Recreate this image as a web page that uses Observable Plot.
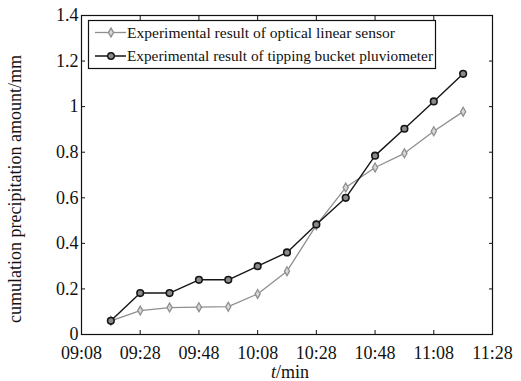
<!DOCTYPE html>
<html><head><meta charset="utf-8">
<script src="https://cdn.jsdelivr.net/npm/d3@7"></script>
<script src="https://cdn.jsdelivr.net/npm/@observablehq/plot@0.6"></script>
<style>
body{margin:0;background:#fff;}
#wrap{position:relative;width:521px;height:381px;font-family:"Liberation Serif","Times New Roman",serif;color:#111;}
#wrap svg{display:block;}
.ovl{position:absolute;white-space:nowrap;line-height:1;}
</style></head><body><div id="wrap"></div>
<script>
// ---- data ----
const times = ["09:18","09:28","09:38","09:48","09:58","10:08","10:18","10:28","10:38","10:48","10:58","11:08","11:18"];
const optical = [0.06,0.105,0.118,0.12,0.122,0.178,0.278,0.48,0.645,0.733,0.795,0.892,0.978];
const tipping = [0.06,0.182,0.182,0.24,0.24,0.30,0.36,0.483,0.60,0.785,0.903,1.023,1.144];
const xTickLabels = ["09:08","09:28","09:48","10:08","10:28","10:48","11:08","11:28"];
const yTicks = [0,0.2,0.4,0.6,0.8,1,1.2,1.4];
const seriesNames = ["Experimental result of optical linear sensor","Experimental result of tipping bucket pluviometer"];
const yLabel = "cumulation precipitation amount/mm";

const parse = s => new Date(Date.UTC(2000,0,1,+s.slice(0,2),+s.slice(3)));
const xTicks = xTickLabels.map(parse);
const optData = times.map((t,i)=>({t:parse(t), v:optical[i]}));
const tipData = times.map((t,i)=>({t:parse(t), v:tipping[i]}));

const grey = "#8f8f8f", dark = "#151515";
const optFill = "#d8d8d8", tipFill = "#8a8a8a";
const chart = Plot.plot({
  width:521, height:381, marginLeft:81, marginRight:29, marginTop:15, marginBottom:47,
  style:{fontFamily:'"Liberation Serif","Times New Roman",serif', fontSize:"18px", color:"#111", background:"transparent", overflow:"visible"},
  x:{type:"utc", domain:[xTicks[0], xTicks[xTicks.length-1]]},
  y:{domain:[0,1.4]},
  marks:[
    Plot.frame({stroke:"#111", strokeWidth:1.2}),
    Plot.axisX(xTicks, {anchor:"bottom", tickSize:-4, tickPadding:16, tickFormat:d3.utcFormat("%H:%M"), label:null}),
    Plot.axisX(xTicks, {anchor:"top", tickSize:-4, tickFormat:()=>"", label:null}),
    Plot.axisY(yTicks, {anchor:"left", tickSize:-4, tickPadding:7, tickFormat:d=>String(d), label:null}),
    Plot.axisY(yTicks, {anchor:"right", tickSize:-4, tickFormat:()=>"", label:null}),
    Plot.line(optData, {x:"t", y:"v", stroke:grey, strokeWidth:1.3}),
    Plot.dot(optData, {x:"t", y:"v", symbol:"diamond", r:2.7, stroke:grey, strokeWidth:1.3, fill:optFill}),
    Plot.line(tipData, {x:"t", y:"v", stroke:dark, strokeWidth:1.4}),
    Plot.dot(tipData, {x:"t", y:"v", symbol:"circle", r:3.3, stroke:dark, strokeWidth:1.6, fill:tipFill})
  ]
});
const wrap = document.getElementById("wrap");
wrap.appendChild(chart);

// y label
const yl = document.createElement("div");
yl.className = "ovl";
yl.textContent = yLabel;
yl.style.cssText += "font-size:18px;left:15px;top:189px;transform:translate(-50%,-50%) rotate(-90deg);";
wrap.appendChild(yl);

// x label
const xl = document.createElement("div");
xl.className = "ovl";
xl.innerHTML = "<i>t</i>/min";
xl.style.cssText += "font-size:18px;line-height:0.88;left:290px;top:373px;transform:translate(-50%,-50%);";
wrap.appendChild(xl);

// legend
const ns = "http://www.w3.org/2000/svg";
const lg = document.createElementNS(ns, "svg");
lg.setAttribute("width", 348); lg.setAttribute("height", 49);
lg.style.cssText = "position:absolute;left:88px;top:20px;overflow:visible;";
const rect = document.createElementNS(ns, "rect");
rect.setAttribute("x",0.5); rect.setAttribute("y",0.5); rect.setAttribute("width",347); rect.setAttribute("height",48);
rect.setAttribute("fill","#fff"); rect.setAttribute("stroke","#111"); rect.setAttribute("stroke-width",1.2);
lg.appendChild(rect);
const rows = [
  {name:seriesNames[0], stroke:grey, fill:optFill, sym:d3.symbol(d3.symbolDiamond, Math.PI*2.7*2.7)(), sw:1.3, len:268},
  {name:seriesNames[1], stroke:dark, fill:tipFill, sym:d3.symbol(d3.symbolCircle, Math.PI*3.3*3.3)(), sw:1.5, len:306}
];
rows.forEach((r,i)=>{
  const cy = 12.5 + i*23.5;
  const ln = document.createElementNS(ns,"line");
  ln.setAttribute("x1",7); ln.setAttribute("x2",38); ln.setAttribute("y1",cy); ln.setAttribute("y2",cy);
  ln.setAttribute("stroke",r.stroke); ln.setAttribute("stroke-width",r.sw);
  lg.appendChild(ln);
  const p = document.createElementNS(ns,"path");
  p.setAttribute("d", r.sym); p.setAttribute("transform",`translate(23,${cy})`);
  p.setAttribute("stroke",r.stroke); p.setAttribute("fill",r.fill); p.setAttribute("stroke-width",1.4);
  lg.appendChild(p);
  const tx = document.createElementNS(ns,"text");
  tx.setAttribute("x",39); tx.setAttribute("y",cy+5);
  tx.setAttribute("font-size",15.5);
  tx.setAttribute("font-family",'"Liberation Serif","Times New Roman",serif');
  tx.setAttribute("fill","#111");
  tx.setAttribute("textLength", r.len); tx.setAttribute("lengthAdjust","spacingAndGlyphs");
  tx.textContent = r.name;
  lg.appendChild(tx);
});
wrap.appendChild(lg);
</script></body></html>
